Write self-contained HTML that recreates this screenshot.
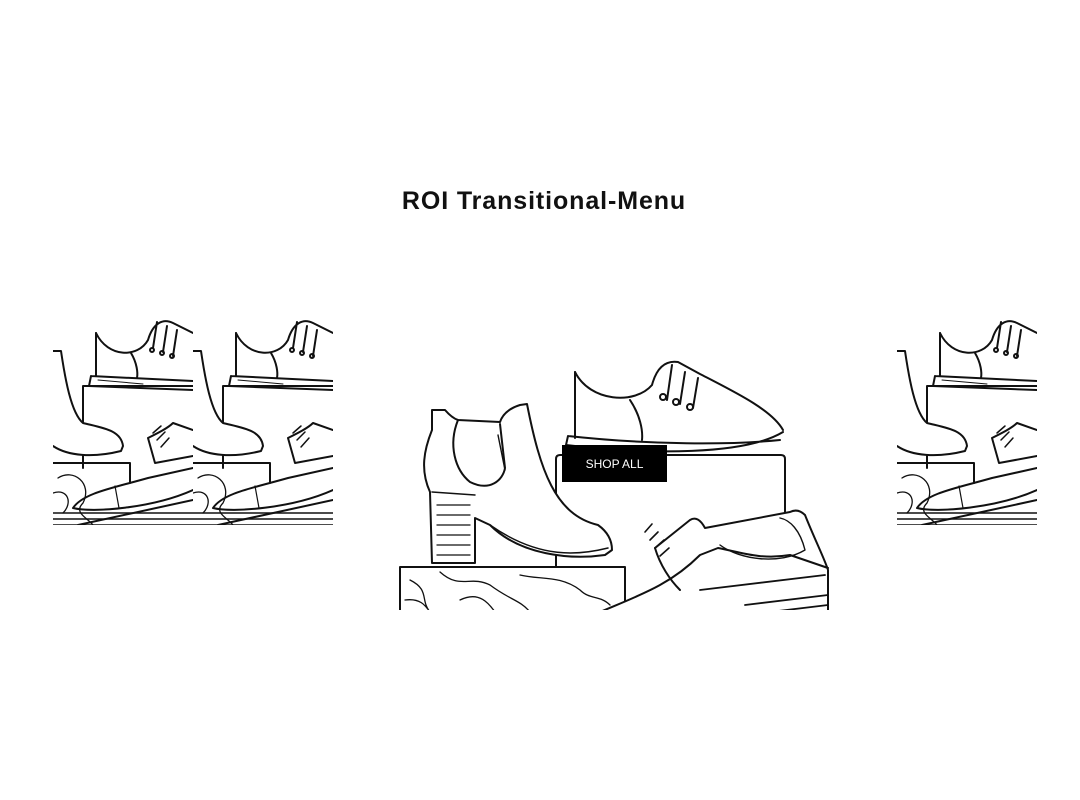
<!DOCTYPE html>
<html><head><meta charset="utf-8"><style>
html,body{margin:0;padding:0;background:#fff;width:1080px;height:800px;overflow:hidden}
.t{position:absolute;left:0;width:1088px;top:187px;text-align:center;font:600 25px "Liberation Sans",sans-serif;color:#111;letter-spacing:0.9px}
.b{position:absolute;left:562px;top:445px;width:105px;height:37px;background:#000;color:#fff;font:500 12px "Liberation Sans",sans-serif;display:flex;align-items:center;justify-content:center}
svg{position:absolute;left:0;top:0}
</style></head><body>
<div class="t">ROI Transitional-Menu</div>
<svg width="1080" height="800" fill="none" stroke="#111" stroke-width="2" stroke-linejoin="round" stroke-linecap="round">
<defs>
<clipPath id="tc"><rect x="0" y="0" width="140" height="207"/></clipPath>
<clipPath id="cc"><rect x="398" y="340" width="434" height="270"/></clipPath>
<g id="tile">
 <g clip-path="url(#tc)">
  <path d="M43,15 C55,40 85,40 95,22 C100,5 110,0 120,5 L140,15"/>
  <path d="M43,15 L43,58"/>
  <path d="M78,35 C84,45 85,55 84,60"/>
  <path d="M38,58 L36,68 L140,72 M38,58 L140,63"/>
  <path d="M45,62 L90,66" stroke-width="1"/>
  <path d="M104,4 L100,30 M114,8 L110,34 M124,12 L120,38"/>
  <circle cx="99" cy="32" r="2"/><circle cx="109" cy="35" r="2"/><circle cx="119" cy="38" r="2"/>
  <path d="M30,150 L30,68 L140,68"/>
  <path d="M0,33 L8,33 C12,60 18,95 30,105 C50,110 68,112 70,128 L68,133 C40,140 15,138 0,128" fill="#fff"/>
  <path d="M0,145 L77,145 L77,165"/>
  <path d="M5,160 C20,150 40,165 30,185 C20,195 35,200 40,207 M0,175 C15,170 20,185 10,195" stroke-width="1.3"/>
  <path d="M20,190 C30,175 60,170 95,160 L140,150 M20,190 C40,195 100,190 140,172"/>
  <path d="M95,120 L102,145 L140,138 M95,120 C105,115 115,110 120,105 L140,112"/>
  <path d="M100,115 L108,108 M104,122 L112,114 M108,129 L116,120" stroke-width="1.5"/>
  <path d="M62,168 L66,190" stroke-width="1.2"/>
  <path d="M0,195 L140,195 M0,201 L140,201 M0,207 L140,207" stroke-width="1.5"/>
  <path d="M25,207 L140,182"/>
 </g>
</g>
</defs>
<use href="#tile" x="53" y="318"/>
<use href="#tile" x="193" y="318"/>
<use href="#tile" x="897" y="318"/>
<g clip-path="url(#cc)">
 <path d="M556,612 L556,459 Q556,455 560,455 L781,455 Q785,455 785,459 L785,525"/>
 <path d="M575,372 C590,402 635,405 652,385 C656,370 664,360 678,362 L700,374 C735,392 772,410 783,430"/>
 <path d="M575,372 L575,438"/>
 <path d="M630,400 C640,415 643,430 642,440"/>
 <path d="M568,436 L566,445 C650,455 745,455 783,432 M568,436 C650,445 730,445 780,440"/>
 <path d="M672,365 L667,400 M685,372 L680,404 M698,378 L693,408"/>
 <circle cx="663" cy="397" r="3"/><circle cx="676" cy="402" r="3"/><circle cx="690" cy="407" r="3"/>
 <path d="M400,612 L400,567 L625,567 L625,612" fill="#fff"/>
 <path d="M410,580 C430,590 420,600 430,612 M440,572 C460,590 470,575 490,585 C510,600 520,600 530,612 M520,575 C540,580 560,575 580,590 C590,600 600,595 610,605 M405,600 C420,598 425,605 430,612 M460,600 C480,590 490,605 495,612" stroke-width="1.3"/>
 <path d="M432,410 L445,410 Q452,418 458,420 L500,422 Q504,410 520,405 L527,404 C540,470 555,515 598,525 Q612,535 612,550 L605,555 C570,560 520,555 490,525 L475,518 L475,563 L432,563 L430,492 C420,470 424,450 432,430 Z" fill="#fff"/>
 <path d="M458,420 C448,445 455,470 470,482 C490,492 503,480 505,468 L500,424"/>
 <path d="M498,435 L505,470" stroke-width="1.4"/>
 <path d="M432,492 L475,495 M490,525 C540,560 580,555 608,548" stroke-width="1.5"/>
 <path d="M437,505 L470,505 M437,515 L470,515 M437,525 L470,525 M437,535 L470,535 M437,545 L470,545 M437,555 L470,555" stroke-width="1.3"/>
 <path d="M600,612 C640,595 670,585 700,555 L718,548 C740,552 760,560 790,555 L828,568 L828,612 Z" fill="#fff" stroke="none"/>
 <path d="M655,548 L690,520 Q698,515 705,528 L790,512 Q798,508 805,515 C815,540 825,560 828,570 L828,610 L700,612 L680,590 C670,580 660,565 655,548 Z" fill="#fff" stroke="none"/>
 <path d="M600,612 C640,595 670,585 700,555 L718,548 C740,552 760,560 790,555 L828,568"/>
 <path d="M655,548 L690,520 Q698,515 705,528 L790,512 Q798,508 805,515 C815,540 825,560 828,570 L828,610"/>
 <path d="M655,548 C660,565 670,580 680,590"/>
 <path d="M720,545 C740,560 780,565 805,550 C800,530 790,520 780,518" stroke-width="1.4"/>
 <path d="M650,540 L658,532 M655,548 L664,540 M660,556 L669,548 M645,532 L652,524" stroke-width="1.6"/>
 <path d="M745,605 L828,595 M770,612 L828,605 M700,590 L825,575" stroke-width="1.8"/>
</g>
</svg>
<div class="b">SHOP ALL</div>
</body></html>
